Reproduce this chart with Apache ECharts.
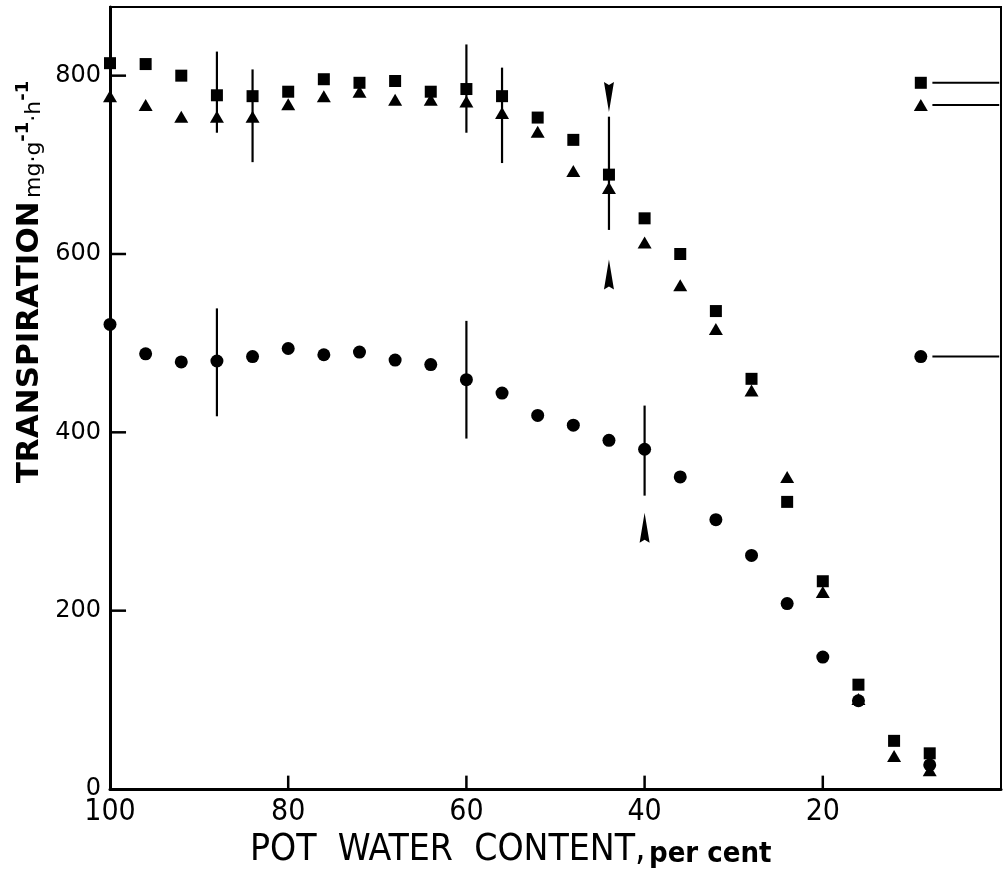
<!DOCTYPE html>
<html>
<head>
<meta charset="utf-8">
<script src="https://cdn.jsdelivr.net/npm/echarts@6/dist/echarts.min.js"></script>
<style>
  html, body { margin: 0; padding: 0; background: #fff; }
  #chart { width: 1008px; height: 873px; }
</style>
</head>
<body>
<div id="chart"></div>
<script>
// pot water content (%) for every measuring day
const waterContent = [100, 96, 92, 88, 84, 80, 76, 72, 68, 64, 60, 56, 52, 48, 44, 40, 36, 32, 28, 24, 20, 16, 12, 8];
// transpiration, mg g-1 h-1
const squares   = [814, 813, 800, 778, 777, 782, 796, 792, 794, 782, 785, 777, 753, 728, 689, 640, 600, 536, 460, 322, 233, 117, 54, 40];
const triangles = [777, 767, 754, 754, 754, 768, 777, 782, 773, 773, 771, 758, 737, 693, 674, 613, 565, 516, 447, 350, 221, 101, 37, 21];
const circles   = [521, 488, 479, 480, 485, 494, 487, 490, 481, 476, 459, 444, 419, 408, 391, 381, 350, 302, 262, 208, 148, 99, null, 27];

// error bars: [water content, low, high]
const errorBars = [
  [88, 736, 827], [84, 703, 807], [60, 736, 835], [56, 702, 809], [44, 627, 754],
  [88, 418, 539], [60, 393, 525], [40, 329, 430]
];

// arrows: [water content, centre value]
const upArrows = [[44, 577], [40, 293]];
const downArrows = [[44, 776]];

// control plants (well watered), drawn at the right edge
const ctrlX = 9;
const ctrlLineFrom = 7.7;
const ctrlSquare = 792;
const ctrlTriangle = 767;
const ctrlCircle = 485;

const yTicks = [0, 200, 400, 600, 800];
const xTicks = [100, 80, 60, 40, 20];

function pairs(vals) {
  return waterContent.map((x, i) => [x, vals[i]]).filter(d => d[1] != null);
}

const chart = echarts.init(document.getElementById('chart'));

const narrow = '"Liberation Sans Narrow", "DejaVu Sans Condensed", "Liberation Sans", sans-serif';

// inward tick marks as error-bar-like segments, placed through the axis scales
const xTickMarks = xTicks.slice(1).map(v => [v, 0, 15]);
const yTickMarks = yTicks.slice(1).map(v => [100, 98.2, v]);

chart.setOption({
  animation: false,
  backgroundColor: '#fff',
  grid: {
    left: 110, right: 7, top: 7, bottom: 84,
    show: true, borderColor: '#000', borderWidth: 2
  },
  xAxis: {
    type: 'value',
    inverse: true,
    min: 0, max: 100, interval: 20,
    axisLine: { show: true, onZero: false, lineStyle: { color: '#000', width: 3 } },
    axisTick: { show: false },
    splitLine: { show: false },
    axisLabel: {
      color: '#000', fontFamily: narrow, fontSize: 30, margin: 8,
      formatter: v => (xTicks.indexOf(v) >= 0 ? String(v) : '')
    }
  },
  yAxis: {
    type: 'value',
    min: 0, max: 877, interval: 200,
    axisLine: { show: true, onZero: false, lineStyle: { color: '#000', width: 3 } },
    axisTick: { show: false },
    splitLine: { show: false },
    axisLabel: {
      color: '#000', fontFamily: 'DejaVu Sans', fontSize: 24, margin: 9,
      showMaxLabel: false,
      formatter: v => (yTicks.indexOf(v) >= 0 ? String(v) : '')
    }
  },
  graphic: [
    {
      type: 'text',
      x: 30, y: 282,
      rotation: Math.PI / 2,
      style: {
        text: '{a|TRANSPIRATION} {b|mg·g}{s|-1}{b|·h}{s|-1}',
        align: 'center', verticalAlign: 'middle',
        fill: '#000',
        rich: {
          a: { fontFamily: 'DejaVu Sans', fontWeight: 'bold', fontSize: 31, fill: '#000' },
          b: { fontFamily: 'DejaVu Sans', fontSize: 22, fill: '#000', verticalAlign: 'bottom' },
          s: { fontFamily: 'DejaVu Sans', fontWeight: 'bold', fontSize: 18, fill: '#000', verticalAlign: 'top' }
        }
      }
    },
    {
      type: 'text',
      x: 250, y: 869,
      style: {
        text: '{a|POT  WATER  CONTENT,} {b|per cent}',
        align: 'left', verticalAlign: 'bottom',
        fill: '#000',
        rich: {
          a: { fontFamily: narrow, fontSize: 37, fill: '#000', verticalAlign: 'bottom' },
          b: { fontFamily: narrow, fontWeight: 'bold', fontSize: 29, fill: '#000', verticalAlign: 'bottom' }
        }
      }
    }
  ],
  series: [
    {
      type: 'custom',
      name: 'x ticks',
      data: xTickMarks,
      encode: { x: 0, y: [1, 2] },
      renderItem: (params, api) => {
        const p1 = api.coord([api.value(0), api.value(1)]);
        const p2 = api.coord([api.value(0), api.value(2)]);
        return {
          type: 'line',
          shape: { x1: p1[0], y1: p1[1], x2: p2[0], y2: p2[1] },
          style: { stroke: '#000', lineWidth: 2.5 }
        };
      }
    },
    {
      type: 'custom',
      name: 'y ticks',
      data: yTickMarks,
      encode: { x: [0, 1], y: 2 },
      renderItem: (params, api) => {
        const p1 = api.coord([api.value(0), api.value(2)]);
        const p2 = api.coord([api.value(1), api.value(2)]);
        return {
          type: 'line',
          shape: { x1: p1[0], y1: p1[1], x2: p2[0], y2: p2[1] },
          style: { stroke: '#000', lineWidth: 2.5 }
        };
      }
    },
    {
      type: 'custom',
      name: 'error bars',
      data: errorBars,
      encode: { x: 0, y: [1, 2] },
      renderItem: (params, api) => {
        const p1 = api.coord([api.value(0), api.value(1)]);
        const p2 = api.coord([api.value(0), api.value(2)]);
        return {
          type: 'line',
          shape: { x1: p1[0], y1: p1[1], x2: p2[0], y2: p2[1] },
          style: { stroke: '#000', lineWidth: 2.2 }
        };
      }
    },
    {
      type: 'custom',
      name: 'control lines',
      data: [[ctrlLineFrom, ctrlSquare], [ctrlLineFrom, ctrlTriangle], [ctrlLineFrom, ctrlCircle]],
      encode: { x: 0, y: 1 },
      renderItem: (params, api) => {
        const p1 = api.coord([api.value(0), api.value(1)]);
        const p2 = api.coord([0.2, api.value(1)]);
        return {
          type: 'line',
          shape: { x1: p1[0], y1: p1[1], x2: p2[0], y2: p2[1] },
          style: { stroke: '#000', lineWidth: 2 }
        };
      }
    },
    {
      type: 'scatter', name: 'triangles',
      symbol: 'triangle', symbolSize: [14, 12],
      itemStyle: { color: '#000', opacity: 1 },
      data: pairs(triangles).concat([[ctrlX, ctrlTriangle]])
    },
    {
      type: 'scatter', name: 'squares',
      symbol: 'rect', symbolSize: 12,
      itemStyle: { color: '#000', opacity: 1 },
      data: pairs(squares).concat([[ctrlX, ctrlSquare]])
    },
    {
      type: 'scatter', name: 'circles',
      symbol: 'circle', symbolSize: 13,
      itemStyle: { color: '#000', opacity: 1 },
      data: pairs(circles).concat([[ctrlX, ctrlCircle]])
    },
    {
      type: 'scatter', name: 'up arrows',
      symbol: 'path://M5,0 L10,30 L5,27 L0,30 Z', symbolSize: [10, 30],
      itemStyle: { color: '#000', opacity: 1 },
      data: upArrows
    },
    {
      type: 'scatter', name: 'down arrows',
      symbol: 'path://M5,0 L10,30 L5,27 L0,30 Z', symbolSize: [10, 30],
      symbolRotate: 180,
      itemStyle: { color: '#000', opacity: 1 },
      data: downArrows
    }
  ]
});
</script>
</body>
</html>
